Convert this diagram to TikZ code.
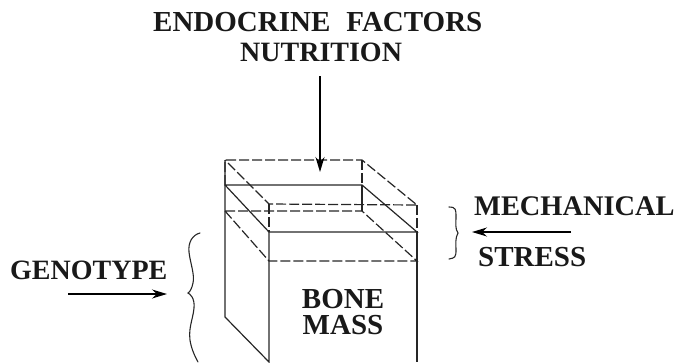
\documentclass[tikz,border=0pt]{standalone}
\usepackage{fontspec}
\setmainfont{Liberation Serif}
\usetikzlibrary{arrows.meta}
\begin{document}
\begin{tikzpicture}[x=1pt,y=-1pt,
  lab/.style={font=\fontsize{28}{25}\selectfont\bfseries,inner sep=0pt,align=center,text=black!90},
  solidln/.style={draw=black!85,line width=1.2pt},
  dashln/.style={draw=black!85,line width=1.2pt,dash pattern=on 10pt off 3pt},
  arr/.style={draw=black,line width=1.3pt,-{Stealth[length=15pt,width=9pt]}},
  brc/.style={draw=black!85,line width=1.1pt,line cap=round}]
\useasboundingbox (0,0) rectangle (676,362);
\node[lab,font=\fontsize{29}{25}\selectfont\bfseries,anchor=west] (top) at (153,22) {ENDOCRINE\hspace{16pt}FACTORS};
\node[lab,anchor=west] (nutr) at (240,52) {NUTRITION};
\node[lab,font=\fontsize{29}{26}\selectfont\bfseries] (bone) at (343,312) {BONE\\MASS};
\node[lab,font=\fontsize{28.4}{25}\selectfont\bfseries,anchor=west] (mech) at (474,206) {MECHANICAL};
\node[lab,font=\fontsize{29}{25}\selectfont\bfseries,anchor=west] (stress) at (478,257) {STRESS};
\node[lab,anchor=west] (geno) at (10,270) {GENOTYPE};
% box corners
\coordinate (b1) at (225,160); \coordinate (b2) at (362,160);
\coordinate (f1) at (269,204); \coordinate (f2) at (417,205);
\coordinate (s1) at (225,185); \coordinate (s2) at (362,185);
\coordinate (t1) at (269,232); \coordinate (t2) at (417,232);
\coordinate (d1) at (225,211); \coordinate (d2) at (362,211);
\coordinate (e1) at (269,261); \coordinate (e2) at (417,261);
\coordinate (low) at (225,317); \coordinate (fb) at (269,362); \coordinate (rb) at (417,362);
% dashed level
\draw[dashln] (s1) -- (b1) -- (b2) -- (f2) -- (f1) -- (b1);
\draw[dashln] (b2) -- (s2);
\draw[dashln] (f1) -- (t1);
\draw[dashln] (f2) -- (t2);
% solid level
\draw[solidln] (b1) -- (s1) -- (s2) -- (t2) -- (t1) -- (s1);
\draw[solidln] (s2) -- (d2);
% lower dashed level
\draw[dashln] (d1) -- (d2) -- (e2) -- (e1) -- (d1);
% body
\draw[solidln] (s1) -- (low) -- (fb) -- (t1);
\draw[solidln] (t2) -- (rb);
% arrows
\coordinate (a1) at (320,76); \coordinate (a2) at (320,172);
\draw[arr] (a1) -- (a2);
\coordinate (a3) at (571,232); \coordinate (a4) at (472,232);
\draw[arr] (a3) -- (a4);
\coordinate (a5) at (68,294); \coordinate (a6) at (167,294);
\draw[arr] (a5) -- (a6);
% right brace
\draw[brc] (449,207) .. controls (456,207) and (456,210) .. (456,216)
  .. controls (456,224) and (455,229) .. (458,233)
  .. controls (455,238) and (456,244) .. (456,250)
  .. controls (456,257) and (455,258) .. (449,259);
% left brace
\draw[brc] (200,233) .. controls (192,235) and (188,243) .. (189,252)
  .. controls (190,262) and (195,275) .. (193,283)
  .. controls (192,288) and (190,292) .. (188,293)
  .. controls (190,294) and (195,298) .. (194,308)
  .. controls (193,320) and (187,330) .. (191,345)
  .. controls (193,353) and (196,358) .. (198,362);
\end{tikzpicture}
\end{document}
